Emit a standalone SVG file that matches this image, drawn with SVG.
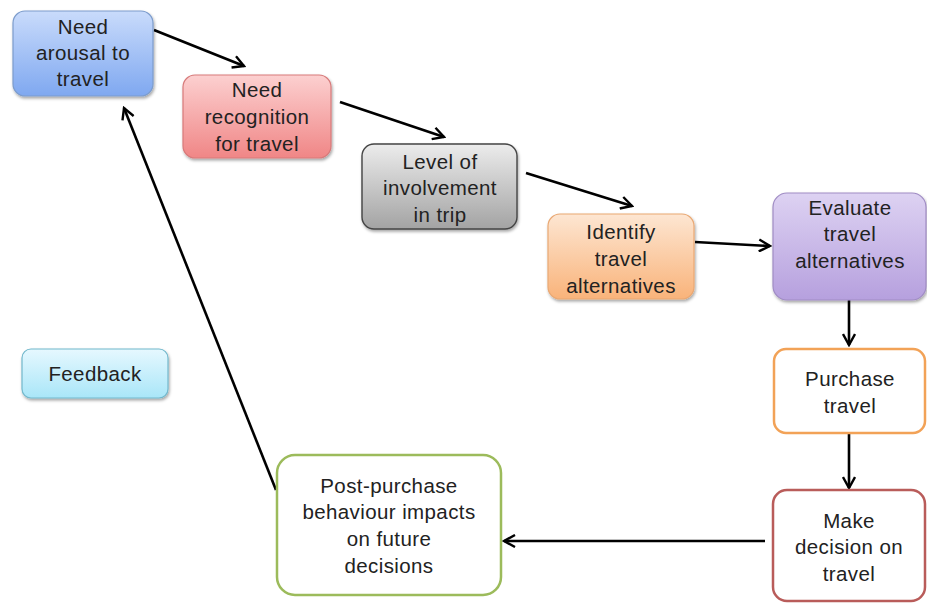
<svg xmlns="http://www.w3.org/2000/svg" width="927" height="604" viewBox="0 0 927 604">
<defs>
<linearGradient id="gBlue" x1="0" y1="0" x2="0" y2="1"><stop offset="0" stop-color="#c9dbfb"/><stop offset="1" stop-color="#7fa8f0"/></linearGradient>
<linearGradient id="gRed" x1="0" y1="0" x2="0" y2="1"><stop offset="0" stop-color="#fcd0d0"/><stop offset="1" stop-color="#f08686"/></linearGradient>
<linearGradient id="gGray" x1="0" y1="0" x2="0" y2="1"><stop offset="0" stop-color="#ececec"/><stop offset="1" stop-color="#a3a3a3"/></linearGradient>
<linearGradient id="gOrange" x1="0" y1="0" x2="0" y2="1"><stop offset="0" stop-color="#fde6d2"/><stop offset="1" stop-color="#f9b37a"/></linearGradient>
<linearGradient id="gPurple" x1="0" y1="0" x2="0" y2="1"><stop offset="0" stop-color="#ddd2f2"/><stop offset="1" stop-color="#b6a0de"/></linearGradient>
<linearGradient id="gCyan" x1="0" y1="0" x2="0" y2="1"><stop offset="0" stop-color="#e6f8ff"/><stop offset="1" stop-color="#a9e6f8"/></linearGradient>
<filter id="sh" x="-10%" y="-10%" width="125%" height="130%"><feDropShadow dx="1" dy="2" stdDeviation="1.5" flood-color="#000" flood-opacity="0.35"/></filter>
<marker id="arr" viewBox="0 0 14 14" refX="12" refY="7" markerWidth="14" markerHeight="14" markerUnits="userSpaceOnUse" orient="auto">
<path d="M1,1 L12,7 L1,13" fill="none" stroke="#000" stroke-width="2.4"/>
</marker>
</defs>
<style>
text{font-family:"Liberation Sans","Open Sans",sans-serif;font-size:20.5px;letter-spacing:0.4px;fill:#222;text-anchor:middle}
.c{fill:none;stroke:#000;stroke-width:2.6;marker-end:url(#arr)}
</style>
<rect width="927" height="604" fill="#fff"/>
<g id="connectors">
<line class="c" x1="154" y1="30" x2="244" y2="66"/>
<line class="c" x1="340" y1="102" x2="444" y2="137"/>
<line class="c" x1="526" y1="173" x2="632" y2="206"/>
<line class="c" x1="695" y1="242" x2="770" y2="246"/>
<line class="c" x1="849" y1="300" x2="849" y2="345"/>
<line class="c" x1="849" y1="434" x2="849" y2="488"/>
<line class="c" x1="765" y1="541" x2="504" y2="541"/>
<line class="c" x1="276" y1="490" x2="124" y2="108"/>
</g>
<g id="n1"><rect x="13" y="11" width="140" height="85" rx="12" fill="url(#gBlue)" stroke="#7c9ccc" stroke-width="1.2" filter="url(#sh)"/>
<text x="83" y="34">Need</text><text x="83" y="60">arousal to</text><text x="83" y="86">travel</text></g>
<g id="n2"><rect x="183" y="75" width="148" height="83" rx="12" fill="url(#gRed)" stroke="#d77a7a" stroke-width="1.2" filter="url(#sh)"/>
<text x="257" y="97">Need</text><text x="257" y="124">recognition</text><text x="257" y="151">for travel</text></g>
<g id="n3"><rect x="362" y="144" width="155" height="85" rx="12" fill="url(#gGray)" stroke="#444" stroke-width="1.4" filter="url(#sh)"/>
<text x="440" y="169">Level of</text><text x="440" y="195">involvement</text><text x="440" y="222">in trip</text></g>
<g id="n4"><rect x="548" y="214" width="146" height="85" rx="12" fill="url(#gOrange)" stroke="#e9a873" stroke-width="1.2" filter="url(#sh)"/>
<text x="621" y="239">Identify</text><text x="621" y="266">travel</text><text x="621" y="293">alternatives</text></g>
<g id="n5"><rect x="773" y="193" width="153" height="107" rx="14" fill="url(#gPurple)" stroke="#a08cc4" stroke-width="1.2" filter="url(#sh)"/>
<text x="850" y="215">Evaluate</text><text x="850" y="241">travel</text><text x="850" y="268">alternatives</text></g>
<g id="n6"><rect x="774" y="349" width="151" height="84" rx="12" fill="#fff" stroke="#f2a257" stroke-width="2.5"/>
<text x="850" y="386">Purchase</text><text x="850" y="413">travel</text></g>
<g id="n7"><rect x="773" y="490" width="152" height="111" rx="14" fill="#fff" stroke="#b95c5a" stroke-width="2.5"/>
<text x="849" y="528">Make</text><text x="849" y="554">decision on</text><text x="849" y="581">travel</text></g>
<g id="n8"><rect x="277" y="455" width="224" height="140" rx="18" fill="#fff" stroke="#9cbb5b" stroke-width="2.5"/>
<text x="389" y="493">Post-purchase</text><text x="389" y="519">behaviour impacts</text><text x="389" y="546">on future</text><text x="389" y="573">decisions</text></g>
<g id="n9"><rect x="22" y="349" width="146" height="49" rx="9" fill="url(#gCyan)" stroke="#72b8cc" stroke-width="1.2" filter="url(#sh)"/>
<text x="95" y="381">Feedback</text></g>
</svg>
